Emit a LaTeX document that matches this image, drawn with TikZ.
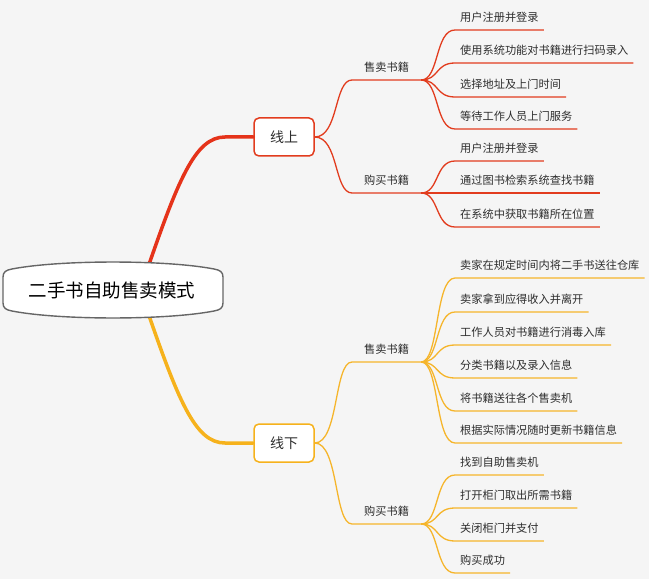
\documentclass[tikz,border=0pt]{standalone}
\usepackage{fontspec}
\newfontfamily\cjk{Noto Sans CJK SC}
\definecolor{bg}{HTML}{F5F5F5}
\definecolor{redA}{HTML}{E5331A}
\definecolor{redB}{HTML}{E23C1E}
\definecolor{orgA}{HTML}{F6B21C}
\definecolor{orgB}{HTML}{F5B52B}
\definecolor{txt}{HTML}{2E2E2E}
\definecolor{rootline}{HTML}{666666}
\begin{document}
\begin{tikzpicture}[x=1bp,y=-1bp,font=\cjk,
  leaf/.style={anchor=south west,inner xsep=5bp,inner ysep=0pt,text height=9bp,text depth=8bp,
    font=\cjk\fontsize{11.2bp}{13bp}\selectfont,text=txt},
  sub/.style={leaf,inner xsep=12bp},
  topic/.style={draw,fill=white,rounded corners=5bp,line width=1.5bp,minimum width=60bp,
    minimum height=38bp,font=\cjk\fontsize{14bp}{16bp}\selectfont,text=txt,inner sep=0pt},
  twig/.style={line width=1.3bp},
  trunk/.style={line width=3.5bp,line cap=round},
]
\fill[bg] (0,0) rectangle (649,579);
\useasboundingbox (0,0) rectangle (649,579);

% topics
\node[topic,draw=redB] (on) at (284,137) {线上};
\node[topic,draw=orgA] (off) at (284,443) {线下};

% root anchors
\coordinate (rt) at (145,276);
\coordinate (rb) at (145,304);

% trunks
\draw[trunk,redA] (rt) .. controls (178,180) and (195,137) .. (225,137) -- (on.west);
\draw[trunk,orgA] (rb) .. controls (178,400) and (195,443) .. (225,443) -- (off.west);

% root shape
\draw[rootline,line width=1.4bp,fill=white]
  (3,277) .. controls (3,272) and (6,270) .. (12,269)
  .. controls (60,259.7) and (166,259.7) .. (214,269)
  .. controls (220,270) and (223,272) .. (223,277)
  -- (223,303)
  .. controls (223,308) and (220,310) .. (214,311)
  .. controls (166,320.3) and (60,320.3) .. (12,311)
  .. controls (6,310) and (3,308) .. (3,303) -- cycle;
\node[font=\cjk\fontsize{18.5bp}{20bp}\selectfont,text=black] (root) at (112,290) {二手书自助售卖模式};

% sub branches
\node[sub] (s1) at (352,80) {售卖书籍};
\node[sub] (s2) at (352,193) {购买书籍};
\node[sub] (s3) at (352,362) {售卖书籍};
\node[sub] (s4) at (352,524) {购买书籍};

\foreach \s/\t/\c in {s1/on/redB,s2/on/redB,s3/off/orgB,s4/off/orgB}{
  \draw[twig,\c] (\t.east) .. controls +(24,0) and +(-18,0) .. (\s.south west) -- (\s.south east);
}

% leaves
\node[leaf] (a1) at (455,30) {用户注册并登录};
\node[leaf] (a2) at (455,63) {使用系统功能对书籍进行扫码录入};
\node[leaf] (a3) at (455,97) {选择地址及上门时间};
\node[leaf] (a4) at (455,129) {等待工作人员上门服务};
\node[leaf] (b1) at (455,161) {用户注册并登录};
\node[leaf] (b2) at (455,193) {通过图书检索系统查找书籍};
\node[leaf] (b3) at (455,227) {在系统中获取书籍所在位置};
\node[leaf] (c1) at (455,278) {卖家在规定时间内将二手书送往仓库};
\node[leaf] (c2) at (455,312) {卖家拿到应得收入并离开};
\node[leaf] (c3) at (455,345) {工作人员对书籍进行消毒入库};
\node[leaf] (c4) at (455,378) {分类书籍以及录入信息};
\node[leaf] (c5) at (455,411) {将书籍送往各个售卖机};
\node[leaf] (c6) at (455,443) {根据实际情况随时更新书籍信息};
\node[leaf] (d1) at (455,475) {找到自助售卖机};
\node[leaf] (d2) at (455,508) {打开柜门取出所需书籍};
\node[leaf] (d3) at (455,541) {关闭柜门并支付};
\node[leaf] (d4) at (455,573) {购买成功};

\foreach \p/\l/\c in {s1/a1/redB,s1/a2/redB,s1/a3/redB,s1/a4/redB,
  s2/b1/redB,s2/b2/redB,s2/b3/redB,
  s3/c1/orgB,s3/c2/orgB,s3/c3/orgB,s3/c4/orgB,s3/c5/orgB,s3/c6/orgB,
  s4/d1/orgB,s4/d2/orgB,s4/d3/orgB,s4/d4/orgB}{
  \draw[twig,\c] (\p.south east) .. controls +(18,0) and +(-20,0) .. (\l.south west) -- (\l.south east);
}
\end{tikzpicture}
\end{document}
